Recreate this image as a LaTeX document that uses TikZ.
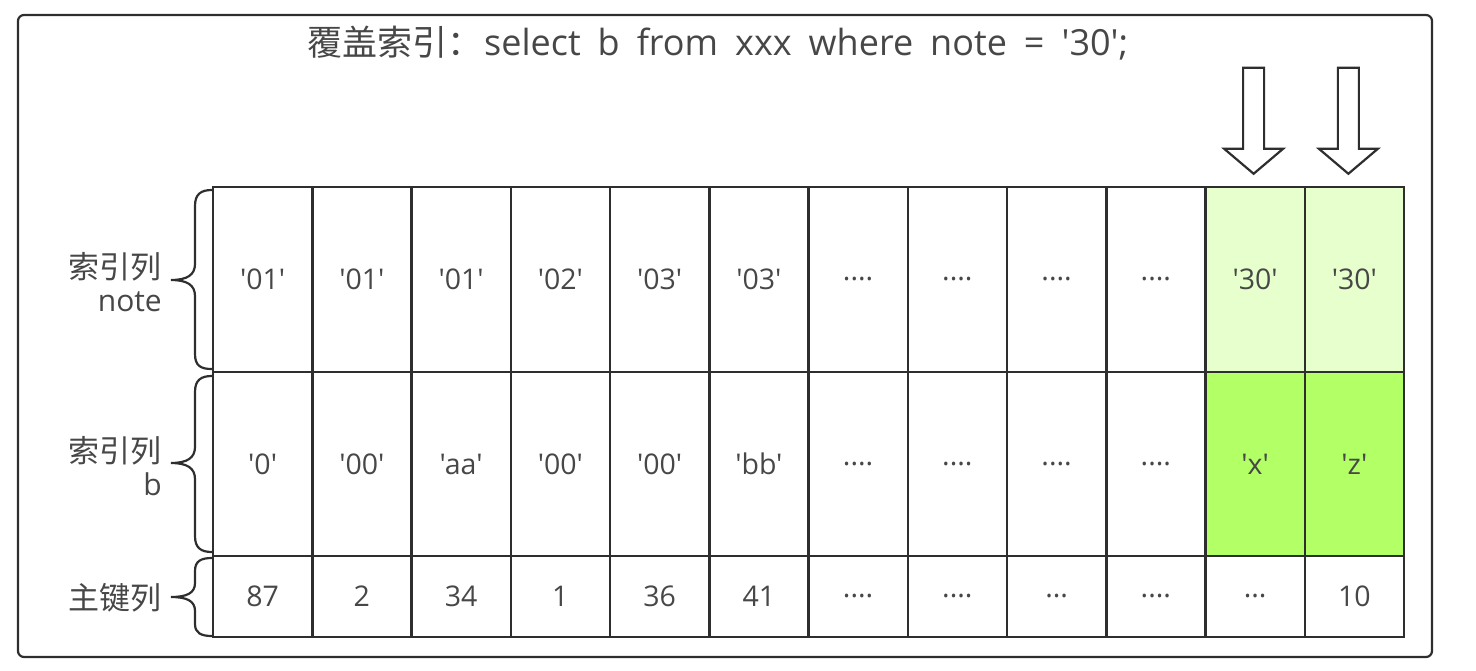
\documentclass[tikz,border=0pt]{standalone}
\usepackage{fontspec}
\newfontfamily\cjk{Noto Sans CJK SC}
\newfontfamily\latin{Open Sans}
\definecolor{linec}{HTML}{2E2E2E}
\definecolor{textc}{HTML}{474747}
\definecolor{lightg}{HTML}{E6FFCC}
\definecolor{darkg}{HTML}{B3FF66}
\tikzset{
  cell/.style={draw=linec, line width=2.5pt, minimum width=99.25pt, inner sep=0pt,
    text=textc, font=\latin\fontsize{28.5}{33}\selectfont},
  rowa/.style={cell, minimum height=185pt},
  rowb/.style={cell, minimum height=184pt},
  rowc/.style={cell, minimum height=81pt},
  bracelabel/.style={anchor=east, align=right, text=textc, inner sep=0pt,
    font=\latin\fontsize{30}{33}\selectfont},
  bracepath/.style={draw=linec, line width=2.2pt},
  blockarrow/.style={draw=linec, fill=white, line width=2.2pt, line join=miter},
}
\begin{document}
\begin{tikzpicture}[x=1pt,y=-1pt]
\useasboundingbox (0,0) rectangle (1476,670);
% outer frame
\draw[draw=linec, line width=2.2pt, rounded corners=6pt] (18,15) rectangle (1432,657);
% title
\node[text=textc, font=\latin\fontsize{36}{38}\selectfont, inner sep=0pt, anchor=west] (title) at (307,43) {{\cjk\fontsize{35}{38}\selectfont 覆盖索引：}\hspace{2pt}{\spaceskip=17pt\relax select b from xxx where note = '30';}};
% row 1 (note)
\node[rowa] (a1) at (262.625,279.5) {'01'};
\node[rowa] (a2) at (361.875,279.5) {'01'};
\node[rowa] (a3) at (461.125,279.5) {'01'};
\node[rowa] (a4) at (560.375,279.5) {'02'};
\node[rowa] (a5) at (659.625,279.5) {'03'};
\node[rowa] (a6) at (758.875,279.5) {'03'};
\node[rowa] (a7) at (858.125,279.5) {....};
\node[rowa] (a8) at (957.375,279.5) {....};
\node[rowa] (a9) at (1056.625,279.5) {....};
\node[rowa] (a10) at (1155.875,279.5) {....};
\node[rowa, fill=lightg] (a11) at (1255.125,279.5) {'30'};
\node[rowa, fill=lightg] (a12) at (1354.375,279.5) {'30'};
% row 2 (b)
\node[rowb] (b1) at (262.625,464) {'0'};
\node[rowb] (b2) at (361.875,464) {'00'};
\node[rowb] (b3) at (461.125,464) {'aa'};
\node[rowb] (b4) at (560.375,464) {'00'};
\node[rowb] (b5) at (659.625,464) {'00'};
\node[rowb] (b6) at (758.875,464) {'bb'};
\node[rowb] (b7) at (858.125,464) {....};
\node[rowb] (b8) at (957.375,464) {....};
\node[rowb] (b9) at (1056.625,464) {....};
\node[rowb] (b10) at (1155.875,464) {....};
\node[rowb, fill=darkg] (b11) at (1255.125,464) {'x'};
\node[rowb, fill=darkg] (b12) at (1354.375,464) {'z'};
% row 3 (primary key)
\node[rowc] (c1) at (262.625,596.5) {87};
\node[rowc] (c2) at (361.875,596.5) {2};
\node[rowc] (c3) at (461.125,596.5) {34};
\node[rowc] (c4) at (560.375,596.5) {1};
\node[rowc] (c5) at (659.625,596.5) {36};
\node[rowc] (c6) at (758.875,596.5) {41};
\node[rowc] (c7) at (858.125,596.5) {....};
\node[rowc] (c8) at (957.375,596.5) {....};
\node[rowc] (c9) at (1056.625,596.5) {...};
\node[rowc] (c10) at (1155.875,596.5) {....};
\node[rowc] (c11) at (1255.125,596.5) {...};
\node[rowc] (c12) at (1354.375,596.5) {10};
% block arrows
\draw[blockarrow] (a11.north) ++(-1.5,-12) -- ++(-29.5,-25) -- ++(19,0) -- ++(0,-81) -- ++(21,0) -- ++(0,81) -- ++(19,0) -- cycle;
\draw[blockarrow] (a12.north) ++(-6,-12) -- ++(-29.5,-25) -- ++(19,0) -- ++(0,-81) -- ++(21,0) -- ++(0,81) -- ++(19,0) -- cycle;
% braces
\draw[bracepath] (212,190) .. controls (201,190) and (195,194) .. (195,206) -- (195,264) .. controls (195,275) and (187,280) .. (171,280) .. controls (187,280) and (195,285) .. (195,296) -- (195,354) .. controls (195,366) and (201,369) .. (212,369);
\draw[bracepath] (212,376) .. controls (201,376) and (195,380) .. (195,392) -- (195,447) .. controls (195,458) and (187,463) .. (171,463) .. controls (187,463) and (195,468) .. (195,479) -- (195,536) .. controls (195,548) and (201,552) .. (212,552);
\draw[bracepath] (212,558) .. controls (201,558) and (195,561) .. (195,571) -- (195,583) .. controls (195,593) and (187,597) .. (171,597) .. controls (187,597) and (195,601) .. (195,611) -- (195,624) .. controls (195,633) and (201,636) .. (212,636);
% brace labels
\node[bracelabel] (la) at (162,282) {{\cjk\fontsize{31}{33}\selectfont 索引列}\\note};
\node[bracelabel] (lb) at (162,466) {{\cjk\fontsize{31}{33}\selectfont 索引列}\\b};
\node[bracelabel] (lc) at (162,598) {{\cjk\fontsize{31}{33}\selectfont 主键列}};
\end{tikzpicture}
\end{document}
